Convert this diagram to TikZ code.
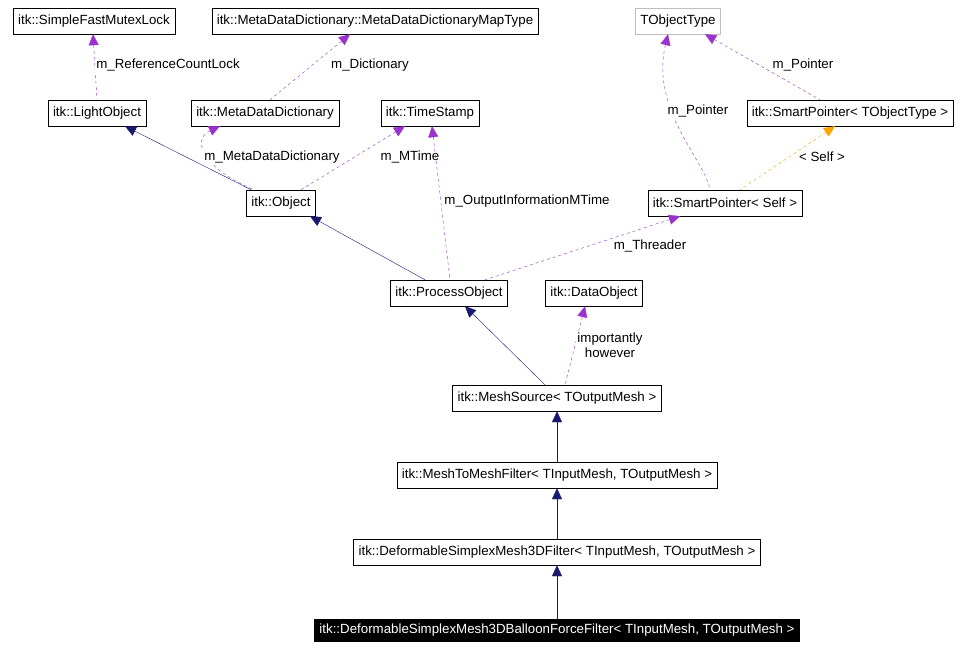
\documentclass[tikz,border=0pt]{standalone}
\usepackage{fontspec}
\setmainfont{Liberation Sans}
\usetikzlibrary{arrows.meta}
\definecolor{usecol}{HTML}{9A32CD}
\definecolor{inhcol}{HTML}{191970}
\definecolor{tplcol}{HTML}{FFA500}

\begin{document}
\begin{tikzpicture}
	[x=1pt, y=-1pt,
		font=\fontsize{13.3}{15}\selectfont,
		cls/.style		={rectangle
									, draw=black
									, fill=white
									, minimum height=26pt
									, inner xsep=5pt
									},
		focus/.style	={cls
									, fill=black
									, text=white
									, minimum height=22pt
									},
		inherit/.style	={draw=inhcol
									, {Triangle[length=11pt,width=10pt,fill=inhcol]}-
									},
		uses/.style		={draw=usecol
									, dashed
									, {Triangle[length=11pt,width=10pt,fill=usecol]}-
									},
		templ/.style	={draw=tplcol
									, dashed
									, {Triangle[length=11pt,width=10pt,fill=tplcol]}-
									},
		lbl/.style		={fill=white, inner sep=1pt}
	]
\useasboundingbox (0,0) rectangle (967,650);

% row 1
\node [cls] (mutex)			at (94,21)		{itk::SimpleFastMutexLock};
\node [cls] (maptype)		at (375,21)		{itk::MetaDataDictionary::MetaDataDictionaryMapType};
\node [cls, draw=black!25] (tobj)	at (678,21)	{TObjectType};
% row 2
\node [cls] (lightobj)		at (97,113)		{itk::LightObject};
\node [cls] (mdd)			at (265,113)	{itk::MetaDataDictionary};
\node [cls] (tstamp)		at (430,113)	{itk::TimeStamp};
\node [cls] (sptot)			at (850,113)	{itk::SmartPointer< TObjectType >};
% row 3
\node [cls] (object)		at (281,203)	{itk::Object};
\node [cls] (spself)		at (725,203)	{itk::SmartPointer< Self >};
% row 4
\node [cls] (process)		at (449,293)	{itk::ProcessObject};
\node [cls] (dataobj)		at (594,293)	{itk::DataObject};
% rows 5 to 8
\node [cls] (meshsrc)		at (557,398)	{itk::MeshSource< TOutputMesh >};
\node [cls] (m2m)			at (557,475)	{itk::MeshToMeshFilter< TInputMesh, TOutputMesh >};
\node [cls] (dsm)			at (557,552)	{itk::DeformableSimplexMesh3DFilter< TInputMesh, TOutputMesh >};
\node [focus] (balloon)		at (557,630)	{itk::DeformableSimplexMesh3DBalloonForceFilter< TInputMesh, TOutputMesh >};

\path [uses] ([xshift=-1]mutex.south) -- (lightobj.north);
\node [lbl] at (168,65) {m\_ReferenceCountLock};
\path [uses] ([xshift=-25]maptype.south) -- ([xshift=5]mdd.north);
\node [lbl] at (370,65) {m\_Dictionary};
\path [inherit] ([xshift=28]lightobj.south) -- ([xshift=5]object.north west);
\path [uses] ([xshift=-45]mdd.south) .. controls (190,140) and (205,170) .. ([xshift=8]object.north west);
\node [lbl] at (272,157) {m\_MetaDataDictionary};
\path [uses] ([xshift=-25]tstamp.south) -- ([xshift=20]object.north);
\node [lbl] at (410,157) {m\_MTime};
\path [inherit] ([xshift=29]object.south) -- ([xshift=-24]process.north);
\path [uses] ([xshift=2]tstamp.south) -- ([xshift=1]process.north);
\node [lbl] at (527,201) {m\_OutputInformationMTime};
\path [uses] ([xshift=-45]spself.south) -- ([xshift=36]process.north);
\node [lbl] at (650,246) {m\_Threader};
\path [uses] ([xshift=-10]tobj.south) .. controls (650,110) and (705,160) .. ([xshift=-15]spself.north);
\node [lbl] at (698,111) {m\_Pointer};
\path [uses] ([xshift=27]tobj.south) -- ([xshift=-30]sptot.north);
\node [lbl] at (803,65) {m\_Pointer};
\path [templ] ([xshift=-15]sptot.south) -- ([xshift=15]spself.north);
\node [lbl] at (822,157) {< Self >};
\path [inherit] ([xshift=16]process.south) -- ([xshift=-12]meshsrc.north);
\path [uses] ([xshift=-9]dataobj.south) -- ([xshift=8]meshsrc.north);
\node [lbl, align=center] at (610,345) {importantly\\however};
\path [inherit] (meshsrc.south) -- (m2m.north);
\path [inherit] (m2m.south) -- (dsm.north);
\path [inherit] (dsm.south) -- (balloon.north);
\end{tikzpicture}
\end{document}
